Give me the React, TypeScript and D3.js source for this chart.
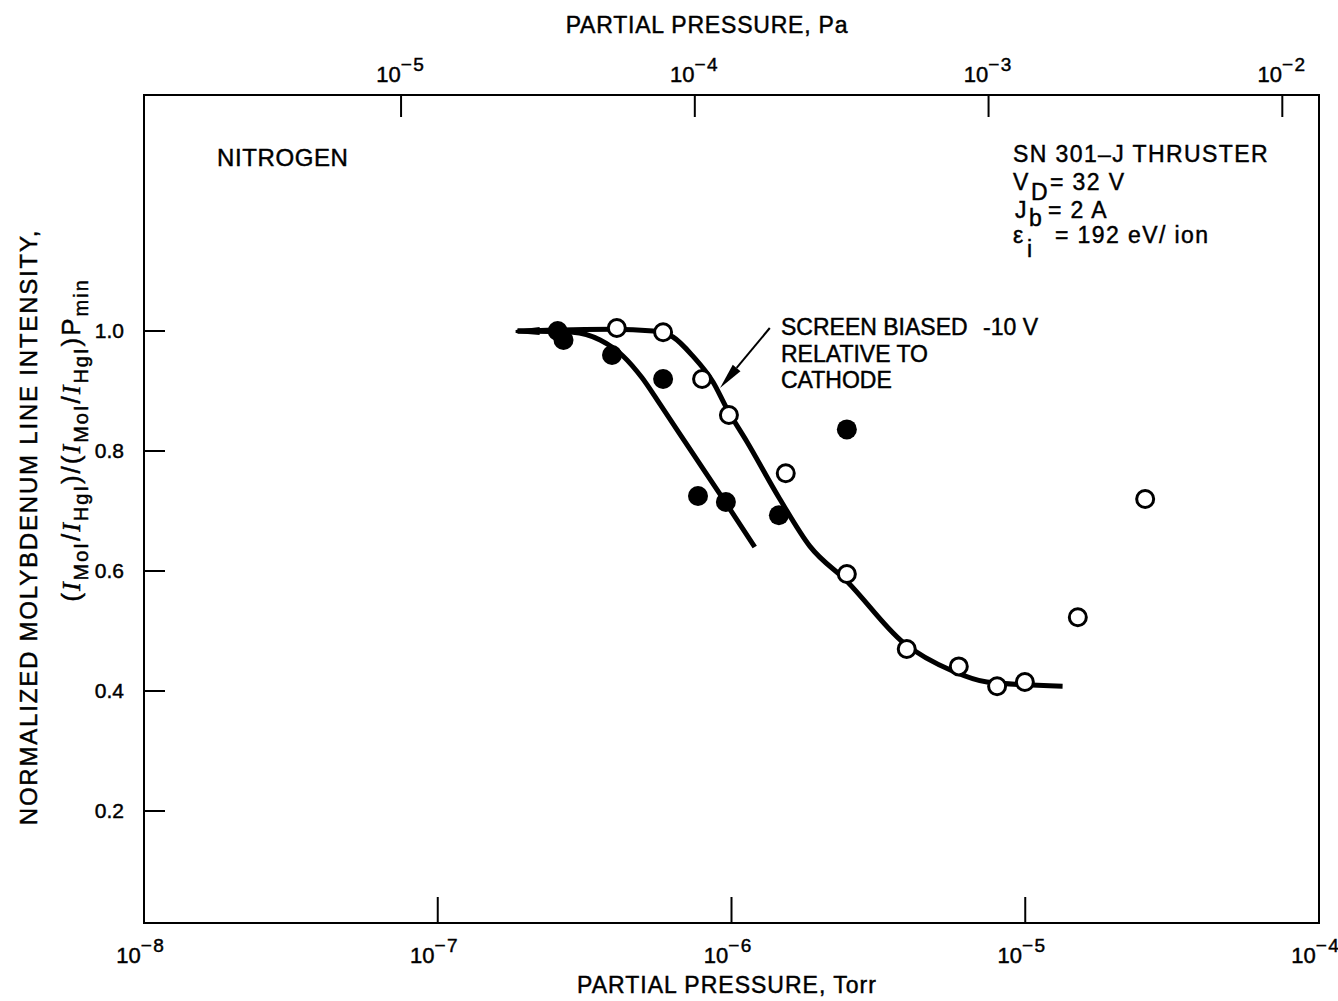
import React from 'react';
import * as d3 from 'd3';

// Closed symbols (screen at normal potential)
const filledTorr = [2.56e-7, 2.68e-7, 3.92e-7, 5.85e-7, 7.69e-7, 9.57e-7, 1.45e-6, 2.47e-6];
const filledVal = [1.0, 0.985, 0.96, 0.92, 0.725, 0.715, 0.693, 0.836];

// Open symbols (screen biased -10 V)
const openTorr = [4.07e-7, 5.85e-7, 7.94e-7, 9.8e-7, 1.53e-6, 2.47e-6, 3.95e-6, 5.94e-6, 8.02e-6, 9.97e-6, 1.51e-5, 2.56e-5];
const openVal = [1.005, 0.998, 0.92, 0.86, 0.763, 0.595, 0.47, 0.441, 0.408, 0.415, 0.523, 0.72];

// Faired curves
const curveATorr = [1.87e-7, 2.88e-7, 3.57e-7, 4.28e-7, 4.96e-7, 5.71e-7, 7.22e-7, 9.58e-7, 1.2e-6];
const curveAVal = [1.0, 0.998, 0.985, 0.958, 0.922, 0.878, 0.803, 0.713, 0.64];
const curveBTorr = [1.87e-7, 3.95e-7, 5.41e-7, 6.32e-7, 7.39e-7, 8.65e-7, 9.66e-7, 1.13e-6, 1.46e-6, 1.85e-6, 2.47e-6, 3.84e-6, 5.68e-6, 7.41e-6, 1.34e-5];
const curveBVal = [1.0, 1.003, 1.0, 0.99, 0.958, 0.915, 0.87, 0.815, 0.72, 0.641, 0.583, 0.481, 0.433, 0.415, 0.408];

// Arrow pointing at the biased curve
const arrowTorr = [1.35e-6, 9.14e-7];
const arrowVal = [1.005, 0.905];

const torrTicks = [1e-8, 1e-7, 1e-6, 1e-5, 1e-4];
const paTicks = [1e-5, 1e-4, 1e-3, 1e-2];
const yTicks = [0.2, 0.4, 0.6, 0.8, 1.0];
const PA_PER_TORR = 133.322;

const FONT = '"Liberation Sans", Arial, Helvetica, sans-serif';
const SERIF = '"Liberation Serif", "DejaVu Serif", serif';

const left = 144, right = 1319, top = 95, bottom = 923;

const App = () => {
  const x = d3.scaleLog().domain([1e-8, 1e-4]).range([left, right]);
  const y = d3.scaleLinear().domain([0, 1]).range([931, 331]);

  const line = d3.line<[number, number]>()
    .x(d => x(d[0]))
    .y(d => y(d[1]))
    .curve(d3.curveMonotoneX);

  const curveA = curveATorr.map((p, i) => [p, curveAVal[i]] as [number, number]);
  const curveB = curveBTorr.map((p, i) => [p, curveBVal[i]] as [number, number]);

  const exp = (v: number) => Math.round(Math.log10(v));

  // arrow geometry
  const ax0 = x(arrowTorr[0]), ay0 = y(arrowVal[0]);
  const ax1 = x(arrowTorr[1]), ay1 = y(arrowVal[1]);
  const ang = Math.atan2(ay1 - ay0, ax1 - ax0);
  const headLen = 26, headW = 5;
  const bx = ax1 - headLen * Math.cos(ang), by = ay1 - headLen * Math.sin(ang);
  const head = [
    [ax1, ay1],
    [bx + headW * Math.sin(ang), by - headW * Math.cos(ang)],
    [bx - headW * Math.sin(ang), by + headW * Math.cos(ang)],
  ].map(p => p.join(',')).join(' ');

  // pen-start taper where both curves begin
  const sx = x(curveATorr[0]), sy = y(curveAVal[0]);
  const taper = `${sx - 2},${sy - 1} ${sx + 22},${sy - 4} ${sx + 22},${sy + 4} ${sx - 2},${sy + 2}`;

  const pow = (t: number, fs: number, sup: number) => (
    <>
      10<tspan fontSize={sup} dy={-fs * 0.5} letterSpacing={1.5}>{'\u2212'}</tspan>
      <tspan fontSize={sup}>{Math.abs(exp(t))}</tspan>
    </>
  );

  const sub = (s: string, d: number) => (
    <tspan fontSize={20} dy={d}>{s}</tspan>
  );

  return (
    <svg width={1338} height={1001} style={{ position: 'absolute', left: 0, top: 0, background: '#fff' }}
      fontFamily={FONT}>
      <rect x={0} y={0} width={1338} height={1001} fill="#fff" />

      {/* frame */}
      <rect x={left} y={top} width={right - left} height={bottom - top} fill="none" stroke="#000" strokeWidth={2} />

      <g stroke="#000" strokeWidth={0.45}>
        {/* bottom axis (Torr) */}
        {torrTicks.map(t => (
          <g key={'b' + t}>
            {t > 1e-8 && t < 1e-4 && <line x1={x(t)} x2={x(t)} y1={bottom} y2={bottom - 26} stroke="#000" strokeWidth={2} />}
            <text x={x(t) - 4} y={963} textAnchor="middle" fontSize={22}>{pow(t, 22, 19)}</text>
          </g>
        ))}
        <text x={727} y={993} textAnchor="middle" fontSize={23} letterSpacing={1}>PARTIAL PRESSURE, Torr</text>

        {/* top axis (Pa) */}
        {paTicks.map(t => (
          <g key={'t' + t}>
            <line x1={x(t / PA_PER_TORR)} x2={x(t / PA_PER_TORR)} y1={top} y2={top + 22} stroke="#000" strokeWidth={2} />
            <text x={x(t / PA_PER_TORR) - 1} y={82} textAnchor="middle" fontSize={22}>{pow(t, 22, 19)}</text>
          </g>
        ))}
        <text x={707} y={33} textAnchor="middle" fontSize={23} letterSpacing={0.8}>PARTIAL PRESSURE, Pa</text>

        {/* left axis */}
        {yTicks.map(t => (
          <g key={'y' + t}>
            <line x1={left} x2={left + 21} y1={y(t)} y2={y(t)} stroke="#000" strokeWidth={2} />
            <text x={124} y={y(t) + 7} textAnchor="end" fontSize={21}>{t.toFixed(1)}</text>
          </g>
        ))}
        <text transform="translate(37,527) rotate(-90)" textAnchor="middle" fontSize={24} letterSpacing={1.8}>
          NORMALIZED MOLYBDENUM LINE INTENSITY,
        </text>
        <text transform="translate(80,440) rotate(-90)" textAnchor="middle" fontSize={26} letterSpacing={2}>
          (<tspan fontStyle="italic" fontFamily={SERIF}>I</tspan>
          {sub('MoI', 8)}
          <tspan dy={-8}>/</tspan>
          <tspan fontStyle="italic" fontFamily={SERIF}>I</tspan>
          {sub('HgI', 8)}
          <tspan dy={-8}>)/(</tspan>
          <tspan fontStyle="italic" fontFamily={SERIF}>I</tspan>
          {sub('MoI', 8)}
          <tspan dy={-8}>/</tspan>
          <tspan fontStyle="italic" fontFamily={SERIF}>I</tspan>
          {sub('HgI', 8)}
          <tspan dy={-8}>)P</tspan>
          {sub('min', 8)}
        </text>

        {/* annotations */}
        <text x={217} y={166} fontSize={24} letterSpacing={0.6}>NITROGEN</text>

        <g fontSize={23} letterSpacing={1.4}>
          <text x={1013} y={162}>{'SN 301\u2013J THRUSTER'}</text>
          <text x={1013} y={190}>V<tspan x={1031} dy={10}>D</tspan><tspan x={1050} dy={-10}>= 32 V</tspan></text>
          <text x={1015} y={218}>J<tspan x={1029} dy={8}>b</tspan><tspan x={1048} dy={-8}>= 2 A</tspan></text>
          <text x={1013} y={243}>{'\u03b5'}<tspan x={1027} dy={14}>i</tspan><tspan x={1055} dy={-14}>= 192 eV/ ion</tspan></text>
        </g>

        <g fontSize={23}>
          <text x={781} y={335}>SCREEN BIASED <tspan x={983}>-10 V</tspan></text>
          <text x={781} y={362}>RELATIVE TO</text>
          <text x={781} y={388}>CATHODE</text>
        </g>
      </g>

      {/* arrow */}
      <line x1={ax0} y1={ay0} x2={bx} y2={by} stroke="#000" strokeWidth={2} />
      <polygon points={head} fill="#000" />

      {/* faired curves */}
      <polygon points={taper} fill="#000" />
      <path d={line(curveA) || ''} fill="none" stroke="#000" strokeWidth={5} strokeLinecap="butt" />
      <path d={line(curveB) || ''} fill="none" stroke="#000" strokeWidth={5} strokeLinecap="butt" />

      {/* data symbols */}
      {filledTorr.map((p, i) => (
        <circle key={'f' + i} cx={x(p)} cy={y(filledVal[i])} r={10} fill="#000" />
      ))}
      {openTorr.map((p, i) => (
        <circle key={'o' + i} cx={x(p)} cy={y(openVal[i])} r={8.5} fill="#fff" stroke="#000" strokeWidth={3} />
      ))}
    </svg>
  );
};

export default App;
